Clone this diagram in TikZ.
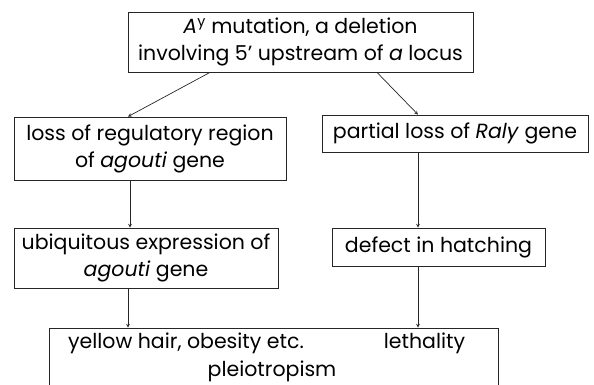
\documentclass[tikz,border=0pt]{standalone}
\usepackage{fontspec}
\setmainfont{Poppins}
\begin{document}
\begin{tikzpicture}[x=1pt,y=-1pt,
    box/.style={draw=black!85, line width=0.8pt, inner sep=0pt, align=center, font=\fontsize{20.5}{27}\selectfont},
    txt/.style={inner sep=0pt, anchor=base, font=\fontsize{20.5}{27}\selectfont},
    arr/.style={->, >=stealth, draw=black!85, line width=0.7pt}]
    \useasboundingbox (0,0) rectangle (594,385);
    %% Mutation
    \node[box, minimum width=345pt, minimum height=60pt] (mut) at (300.5,42)
        {\textit{A}\textsuperscript{y} mutation, a deletion\\involving 5' upstream of \textit{a} locus};
    %% Agouti side
    \node[box, minimum width=272pt, minimum height=63pt] (loss) at (150,148.5)
        {loss of regulatory region\\of \textit{agouti} gene};
    \node[box, minimum width=264pt, minimum height=60pt] (ubi) at (146,258)
        {ubiquitous expression of\\\textit{agouti} gene};
    %% Raly side
    \node[box, minimum width=266pt, minimum height=37pt] (raly) at (455,133.5)
        {partial loss of \textit{Raly} gene};
    \node[box, minimum width=213pt, minimum height=38pt] (hatch) at (438.5,247)
        {defect in hatching};
    %% Phenotype
    \node[box, minimum width=449pt, minimum height=70pt] (pheno) at (273.5,363) {};
    \node[txt] (yellow) at (186,348) {yellow hair, obesity etc.};
    \node[txt] (leth) at (424.5,348) {lethality};
    \node[txt] (pleio) at (272,376) {pleiotropism};
    %% Arrows
    \draw[arr] ([xshift=-90.5pt]mut.south) -- ([xshift=-22pt]loss.north);
    \draw[arr] ([xshift=76.5pt]mut.south) -- ([xshift=-37pt]raly.north);
    \draw[arr] ([xshift=-20pt]loss.south) -- ([xshift=-16pt]ubi.north);
    \draw[arr] ([xshift=-37pt]raly.south) -- ([xshift=-20.5pt]hatch.north);
    \draw[arr] ([xshift=-18pt]ubi.south) -- ([xshift=-145.5pt]pheno.north);
    \draw[arr] ([xshift=-20.5pt]hatch.south) -- ([xshift=144.5pt]pheno.north);
\end{tikzpicture}
\end{document}
